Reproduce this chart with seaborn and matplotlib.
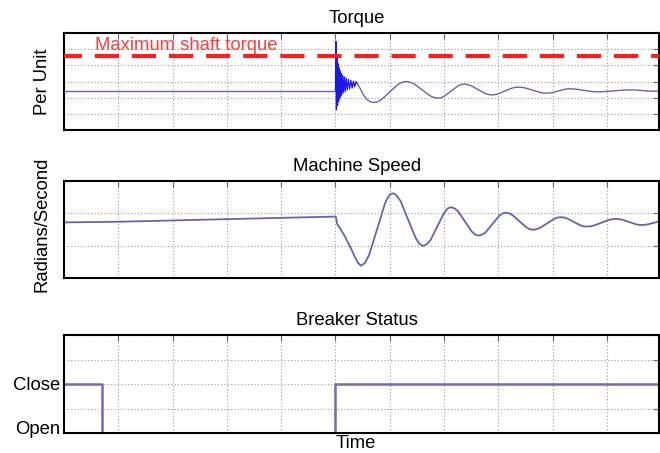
import matplotlib
matplotlib.use("Agg")
import matplotlib.pyplot as plt
import matplotlib.transforms as mtrans
import seaborn as sns

# ---------------- data ----------------
max_shaft_torque = 4.6
max_label = "Maximum shaft torque"

torque_pre_t = [0.0, 5.0]
torque_pre_v = [2.44, 2.44]

torque_burst_t = [5.000, 5.008, 5.018, 5.028, 5.038, 5.048, 5.058, 5.068, 5.078, 5.088,
                  5.098, 5.110, 5.122, 5.136, 5.150, 5.166, 5.182, 5.200, 5.218, 5.240,
                  5.262, 5.285, 5.308, 5.331, 5.354, 5.377, 5.400]
torque_burst_v = [2.44, 5.48, 1.24, 4.50, 1.50, 4.10, 1.75, 3.85, 1.95, 3.65,
                  2.10, 3.50, 2.22, 3.38, 2.32, 3.28, 2.40, 3.20, 2.47, 3.13,
                  2.54, 3.07, 2.61, 3.02, 2.68, 2.98, 2.88]

torque_post_t = [5.40, 5.45, 5.52, 5.58, 5.64, 5.70, 5.775, 5.85, 6.00, 6.15, 6.225, 6.30,
                 6.375, 6.45, 6.595, 6.74, 6.815, 6.89, 6.95, 7.01, 7.13, 7.25, 7.31, 7.37,
                 7.435, 7.50, 7.625, 7.75, 7.815, 7.88, 7.94, 8.00, 8.12, 8.24, 8.30, 8.36,
                 8.43, 8.495, 8.63, 8.765, 8.83, 8.90, 8.95, 9.005, 9.11, 9.215, 9.27, 9.32,
                 9.38, 9.445, 9.57, 9.695, 9.76, 9.82, 9.895, 9.97, 10.12, 10.27, 10.345, 10.42,
                 10.48, 10.54, 10.655, 10.77, 10.83, 10.89, 10.96]
torque_post_v = [2.88, 2.60, 2.15, 1.88, 1.75, 1.70, 1.74, 1.89, 2.35, 2.81, 2.95, 3.00,
                 2.96, 2.85, 2.485, 2.12, 2.01, 1.97, 2.00, 2.10, 2.405, 2.71, 2.81, 2.84,
                 2.81, 2.74, 2.505, 2.27, 2.20, 2.17, 2.19, 2.24, 2.41, 2.58, 2.63, 2.65,
                 2.64, 2.60, 2.465, 2.33, 2.29, 2.28, 2.29, 2.32, 2.415, 2.51, 2.54, 2.55,
                 2.54, 2.52, 2.455, 2.39, 2.37, 2.36, 2.365, 2.38, 2.42, 2.46, 2.475, 2.48,
                 2.478, 2.47, 2.44, 2.41, 2.40, 2.40, 2.40]

speed_t = [0.0, 1.0, 2.0, 3.0, 4.0, 5.00, 5.01, 5.03, 5.05, 5.07, 5.09, 5.17, 5.27, 5.35, 5.41,
           5.47, 5.54, 5.62, 5.765, 5.91, 5.95, 5.985, 6.02, 6.06, 6.10, 6.13, 6.20, 6.34, 6.48,
           6.55, 6.62, 6.685, 6.75, 6.875, 7.00, 7.065, 7.13, 7.195, 7.26, 7.385, 7.51, 7.575,
           7.64, 7.70, 7.765, 7.89, 8.015, 8.08, 8.14, 8.20, 8.265, 8.39, 8.515, 8.58, 8.64,
           8.70, 8.77, 8.895, 9.02, 9.085, 9.15, 9.21, 9.27, 9.39, 9.51, 9.57, 9.63,
           9.70, 9.765, 9.90, 10.035, 10.10, 10.17, 10.23, 10.29, 10.405, 10.52, 10.58, 10.64,
           10.70, 10.76, 10.87, 10.96]
speed_v = [1.72, 1.74, 1.78, 1.82, 1.86, 1.90, 1.88, 1.68, 1.62, 1.58, 1.52, 1.30, 0.97, 0.68, 0.48,
           0.38, 0.46, 0.71, 1.50, 2.29, 2.44, 2.54, 2.60, 2.62, 2.59, 2.54, 2.38, 1.80, 1.23,
           1.05, 0.99, 1.05, 1.17, 1.59, 2.01, 2.15, 2.19, 2.15, 2.06, 1.75, 1.44, 1.34,
           1.31, 1.34, 1.41, 1.665, 1.92, 2.00, 2.02, 2.00, 1.94, 1.755, 1.57, 1.51, 1.49,
           1.51, 1.55, 1.685, 1.82, 1.87, 1.88, 1.87, 1.84, 1.735, 1.63, 1.60, 1.59,
           1.60, 1.625, 1.71, 1.795, 1.82, 1.83, 1.82, 1.80, 1.735, 1.67, 1.645, 1.64,
           1.645, 1.66, 1.71, 1.75]

breaker_t = [0.0, 0.70, 0.70, 4.99, 4.99, 10.96]
breaker_v = [2, 2, 0, 0, 2, 2]
breaker_ticks = [0, 1, 2, 3, 4]
breaker_labels = ["Open", "", "Close", "", ""]

titles = ["Torque", "Machine Speed", "Breaker Status"]
ylabels = ["Per Unit", "Radians/Second", ""]
xlabel = "Time"

# ---------------- style ----------------
sns.set_style("white")
plt.rcParams["font.family"] = ["Liberation Sans", "DejaVu Sans"]
plt.rcParams["text.color"] = "black"
plt.rcParams["axes.labelcolor"] = "black"
plt.rcParams["axes.titlecolor"] = "black"
plt.rcParams["xtick.labelcolor"] = "black"
plt.rcParams["ytick.labelcolor"] = "black"
FS = 13.3
LINE = "#6464b4"

fig = plt.figure(figsize=(6.6, 4.53), dpi=100)
W, H = 660, 453
left, right = 64, 659
panels = [(33, 130), (181, 278), (335, 433)]
axes = []
for top, bot in panels:
    ax = fig.add_axes([left / W, 1 - bot / H, (right - left) / W, (bot - top) / H])
    axes.append(ax)

xmax = 10.96
ylims = [(0, 6), (0, 3), (0, 4)]
yticks = [[1, 2, 3, 4, 5], [1, 2], breaker_ticks]
ylabel_y = [0.5, 0.555, 0.5]

for i, ax in enumerate(axes):
    ax.set_xlim(0, xmax)
    ax.set_ylim(*ylims[i])
    ax.set_xticks(range(1, 11))
    ax.set_yticks(yticks[i])
    ax.set_xticklabels([])
    ax.grid(True, linestyle=(0, (1, 2)), color="#9a9a9a", lw=0.8)
    ax.tick_params(direction="in", top=True, right=True, length=4, width=0.8,
                   color="#666666", labelsize=FS, pad=3)
    for s in ax.spines.values():
        s.set_linewidth(1.5)
        s.set_color("black")
    ax.set_title(titles[i], fontsize=FS, pad=7, x=0.492, color="black")

# Torque
ax = axes[0]
ax.set_yticklabels([])
ax.axhline(max_shaft_torque, color="#ff1e1e", lw=3, linestyle=(1.5, (5.8, 3.1)), zorder=3)
ax.text(0.57, 4.97, max_label, color="#ff3c3c", fontsize=FS, va="baseline", ha="left", zorder=4)
sns.lineplot(x=torque_pre_t, y=torque_pre_v, ax=ax, color=LINE, lw=1.0, sort=False, estimator=None)
sns.lineplot(x=torque_post_t, y=torque_post_v, ax=ax, color=LINE, lw=1.0, sort=False, estimator=None)
sns.lineplot(x=torque_burst_t, y=torque_burst_v, ax=ax, color="#1a1ae6", lw=0.9, sort=False, estimator=None)

# Speed
ax = axes[1]
ax.set_yticklabels([])
sns.lineplot(x=speed_t, y=speed_v, ax=ax, color=LINE, lw=1.3, sort=False, estimator=None)

# Breaker
ax = axes[2]
ax.set_yticklabels(breaker_labels)
sns.lineplot(x=breaker_t, y=breaker_v, ax=ax, color="#7b68b4", lw=1.8, sort=False, estimator=None)
lab = ax.get_yticklabels()[0]
lab.set_transform(lab.get_transform() + mtrans.ScaledTranslation(0, 4 / 72, fig.dpi_scale_trans))

for i, ax in enumerate(axes):
    ax.set_ylabel(ylabels[i], fontsize=FS, color="black")
    ax.yaxis.set_label_coords(-0.022, ylabel_y[i])
    if ax.get_legend():
        ax.get_legend().remove()

axes[2].set_xlabel(xlabel, fontsize=FS, color="black")
axes[2].xaxis.label.set_va("baseline")
axes[2].xaxis.set_label_coords(0.49, -0.15)

fig.savefig("out.png", dpi=100)
